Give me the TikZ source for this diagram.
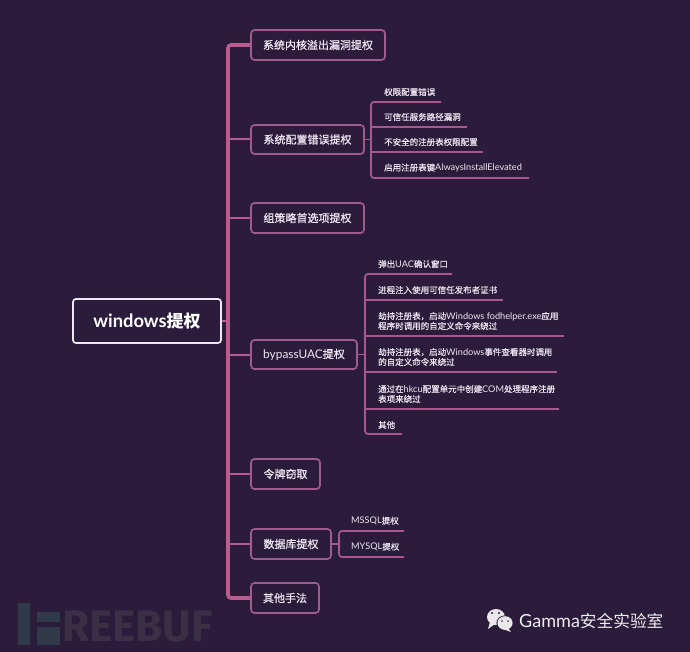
\documentclass[tikz,border=0pt]{standalone}
\usepackage{fontspec}
\setmainfont{Noto Sans CJK SC}
\newfontfamily\latinf[Scale=1.08]{Lato}
\newfontfamily\wmf{Fira Sans}
\newfontfamily\leaff[FakeBold=0.5]{Noto Sans CJK SC}
\newfontfamily\mainf[FakeBold=1.0]{Noto Sans CJK SC}
\newcommand{\lat}[1]{{\latinf #1}}
\definecolor{bgc}{HTML}{2A1C3A}
\definecolor{trunkc}{HTML}{B85C92}
\definecolor{linec}{HTML}{A8588C}
\definecolor{boxc}{HTML}{A35A8C}
\definecolor{txtc}{HTML}{EEE6F2}
\definecolor{wmc}{HTML}{393046}
\definecolor{wmb}{HTML}{313A4B}
\tikzset{
  x=1pt,y=-1pt,
  rootbox/.style={draw=txtc,line width=1.7pt,rounded corners=3pt,text=white,inner sep=0pt,font=\fontsize{17}{20}\selectfont\bfseries},
  mainbox/.style={draw=boxc,line width=1.7pt,rounded corners=3.5pt,text=txtc,inner sep=0pt,font=\mainf\fontsize{11}{13}\selectfont},
  leaf/.style={anchor=west,align=left,text=txtc,inner sep=0pt,font=\leaff\fontsize{8.5}{10}\selectfont},
  trunk/.style={draw=trunkc,line width=3.6pt,rounded corners=3pt},
  branch/.style={draw=trunkc,line width=2pt,rounded corners=3pt},
  subl/.style={draw=linec,line width=1.7pt,rounded corners=3pt},
}
\begin{document}
\begin{tikzpicture}
\useasboundingbox (0,0) rectangle (690,652);
\fill[bgc] (0,0) rectangle (690,652);
% watermark
\fill[wmb] (18,603) rectangle (30,645);
\fill[wmb] (37,612) rectangle (60,622);
\fill[wmb] (37,627) rectangle (60,645);
\node[anchor=west,inner sep=0pt,text=wmc,font=\wmf\fontsize{44}{44}\selectfont\bfseries] (wm) at (62,627) {REEBUF};
% root and main nodes (centres)
\node[rootbox,minimum width=148pt,minimum height=44pt] (root) at (147,321) {\lat{windows}提权};
\node[mainbox,minimum width=134pt,minimum height=30pt] (m1) at (318,45) {系统内核溢出漏洞提权};
\node[mainbox,minimum width=113pt,minimum height=29pt] (m2) at (307.5,139.5) {系统配置错误提权};
\node[mainbox,minimum width=113pt,minimum height=30pt] (m3) at (307.5,218) {组策略首选项提权};
\node[mainbox,minimum width=106pt,minimum height=29pt] (m4) at (304,354.5) {\lat{bypassUAC}提权};
\node[mainbox,minimum width=69pt,minimum height=30pt] (m5) at (285.5,474) {令牌窃取};
\node[mainbox,minimum width=80pt,minimum height=30pt] (m6) at (291,544) {数据库提权};
\node[mainbox,minimum width=68pt,minimum height=30pt] (m7) at (285,598) {其他手法};
% trunk
\coordinate (tk) at (228,321);
\draw[trunk] (m1.west) -- (m1.west -| tk) -- (m7.west -| tk) -- (m7.west);
\draw[branch] (root.east) -- (tk);
\foreach \n in {m2,m3,m4,m5,m6} \draw[branch] (\n.west -| tk) -- (\n.west);
% leaves of m2
\node[leaf] (a1) at (384,92) {权限配置错误};
\node[leaf] (a2) at (384,117) {可信任服务路径漏洞};
\node[leaf] (a3) at (384,142) {不安全的注册表权限配置};
\node[leaf] (a4) at (384,168) {启用注册表键\lat{AlwaysInstallElevated}};
\coordinate (ae1) at (441,102);
\coordinate (ae2) at (467,127);
\coordinate (ae3) at (483,152);
\coordinate (ae4) at (529,178);
\coordinate (ab) at (371,139.5);
\draw[subl] (ae1) -- (ae1 -| ab) -- (ae4 -| ab) -- (ae4);
\draw[subl] (ae2 -| ab) -- (ae2);
\draw[subl] (ae3 -| ab) -- (ae3);
\draw[subl] (m2.east) -- (ab);
% leaves of m4
\node[leaf] (b1) at (378,264) {弹出\lat{UAC}确认窗口};
\node[leaf] (b2) at (378,290) {进程注入使用可信任发布者证书};
\node[leaf] (b3) at (378,321) {劫持注册表，启动\lat{Windows fodhelper.exe}应用\\程序时调用的自定义命令来绕过};
\node[leaf] (b4) at (378,357) {劫持注册表，启动\lat{Windows}事件查看器时调用\\的自定义命令来绕过};
\node[leaf] (b5) at (378,394) {通过在\lat{hkcu}配置单元中创建\lat{COM}处理程序注册\\表项来绕过};
\node[leaf] (b6) at (378,425) {其他};
\coordinate (be1) at (452,274);
\coordinate (be2) at (503,300);
\coordinate (be3) at (564,336);
\coordinate (be4) at (557,372);
\coordinate (be5) at (559,409);
\coordinate (be6) at (402,434);
\coordinate (bb) at (365,354.5);
\draw[subl] (be1) -- (be1 -| bb) -- (be6 -| bb) -- (be6);
\foreach \n in {be2,be3,be4,be5} \draw[subl] (\n -| bb) -- (\n);
\draw[subl] (m4.east) -- (bb);
% leaves of m6
\node[leaf] (c1) at (351,521) {\lat{MSSQL}提权};
\node[leaf] (c2) at (351,547) {\lat{MYSQL}提权};
\coordinate (ce1) at (404,531);
\coordinate (ce2) at (404,557);
\coordinate (cb) at (339,544);
\draw[subl] (ce1) -- (ce1 -| cb) -- (ce2 -| cb) -- (ce2);
\draw[subl] (m6.east) -- (cb);
% wechat mark
\fill[white!90!bgc] (496,617) ellipse (9pt and 8pt);
\fill[white!90!bgc] (490,622) -- (488,629) -- (495,624) -- cycle;
\fill[bgc] (505,623) ellipse (8.6pt and 7.6pt);
\fill[white!90!bgc] (505,623) ellipse (7.6pt and 6.8pt);
\fill[white!90!bgc] (508,628) -- (511,632) -- (503,629) -- cycle;
\fill[bgc] (492,613) circle (1.1pt) (499,613) circle (1.1pt) (502,621) circle (0.9pt) (508,621) circle (0.9pt);
\node[anchor=west,inner sep=0pt,text=white!92!bgc,font=\fontsize{16.7}{20}\selectfont] (gm) at (519,621) {\lat{Gamma}安全实验室};
\end{tikzpicture}
\end{document}
